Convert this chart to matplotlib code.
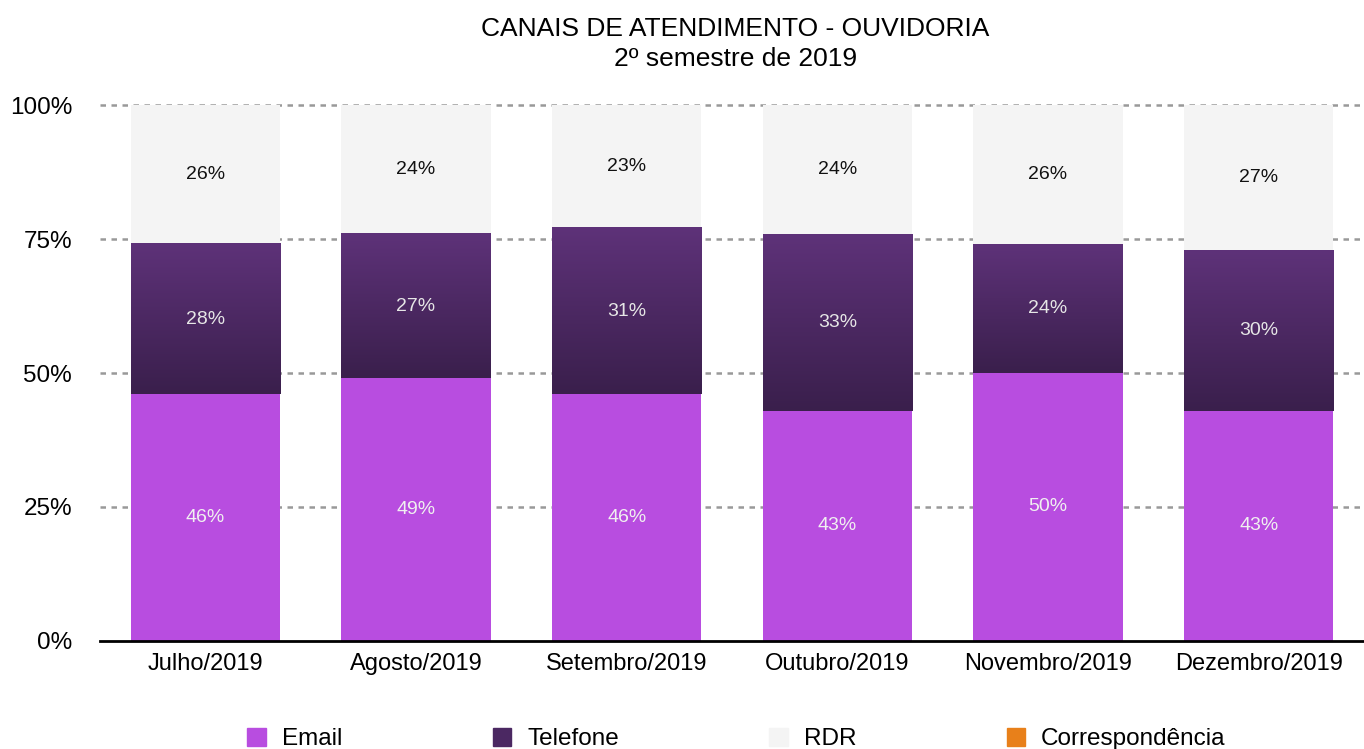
import matplotlib
matplotlib.use("Agg")
import matplotlib.pyplot as plt
import numpy as np
from matplotlib.patches import Patch

plt.rcParams['font.family'] = ['Liberation Sans', 'DejaVu Sans']

months = ['Julho/2019', 'Agosto/2019', 'Setembro/2019', 'Outubro/2019',
          'Novembro/2019', 'Dezembro/2019']
email = [46, 49, 46, 43, 50, 43]
telefone = [28, 27, 31, 33, 24, 30]
rdr = [26, 24, 23, 24, 26, 27]
correspondencia = [0, 0, 0, 0, 0, 0]
y_ticks = [0, 25, 50, 75, 100]
y_labels = ['0%', '25%', '50%', '75%', '100%']


def gradient_fill(ax, bars, top_color, bottom_color):
    grad = np.linspace(0, 1, 256).reshape(-1, 1)
    cmap = matplotlib.colors.LinearSegmentedColormap.from_list(
        'g', [bottom_color, top_color])
    for b in bars:
        x0, y0 = b.get_x(), b.get_y()
        w, h = b.get_width(), b.get_height()
        if h <= 0:
            continue
        ax.imshow(grad, extent=(x0, x0 + w, y0, y0 + h), origin='lower',
                  aspect='auto', cmap=cmap, zorder=3)
        b.set_alpha(0)


def main():
    fig = plt.figure(figsize=(13.64, 7.49), dpi=100)
    ax = fig.add_axes([0.0733, 0.1442, 0.9267, 0.7156])

    x = np.arange(len(months))
    w = 0.71
    bottom = np.zeros(len(months))

    b_email = ax.bar(x, email, w, bottom=bottom, color='#B84DE0', zorder=3)
    bottom += email
    b_tel = ax.bar(x, telefone, w, bottom=bottom, color='#4B2862', zorder=3)
    bottom += telefone
    b_rdr = ax.bar(x, rdr, w, bottom=bottom, color='#F4F4F4', zorder=3)
    bottom += rdr
    b_cor = ax.bar(x, correspondencia, w, bottom=bottom, color='#E8801A', zorder=3)

    gradient_fill(ax, b_tel, '#5E3279', '#3A1F4C')

    for bars, vals, col in [(b_email, email, '#F0F0F0'),
                            (b_tel, telefone, '#E6E6E6'),
                            (b_rdr, rdr, '#111111')]:
        for b, v in zip(bars, vals):
            ax.text(b.get_x() + b.get_width() / 2, b.get_y() + b.get_height() / 2,
                    f'{v}%', ha='center', va='center', fontsize=14,
                    color=col, zorder=5)

    ax.set_xlim(-0.5, len(months) - 0.5)
    ax.set_ylim(0, 100)
    ax.set_yticks(y_ticks)
    ax.set_yticklabels(y_labels, fontsize=17.5)
    ax.set_xticks(x)
    ax.set_xticklabels(months, fontsize=17)
    ax.tick_params(axis='y', length=0, pad=20)
    ax.tick_params(axis='x', length=0, pad=9)

    for t in y_ticks[1:]:
        ax.axhline(t, color='#999999', lw=1.8, ls=(0, (2.2, 2.2)), zorder=1,
                   clip_on=False)

    for s in ['top', 'right', 'left']:
        ax.spines[s].set_visible(False)
    ax.spines['bottom'].set_linewidth(2)
    ax.spines['bottom'].set_color('black')
    ax.spines['bottom'].set_zorder(4)

    fig.text(0.539, 0.941, 'CANAIS DE ATENDIMENTO - OUVIDORIA\n2º semestre de 2019',
             ha='center', va='center', fontsize=19, linespacing=1.3)

    handles = [Patch(color='#B84DE0', label='Email'),
               Patch(color='#4B2862', label='Telefone'),
               Patch(color='#F4F4F4', label='RDR'),
               Patch(color='#E8801A', label='Correspondência')]
    fig.legend(handles=handles, loc='center', bbox_to_anchor=(0.54, 0.013),
               ncol=4, frameon=False, fontsize=17.5, handlelength=0.75,
               handleheight=0.75, handletextpad=0.66, columnspacing=6.2)

    fig.savefig('out.png', dpi=100)


if __name__ == "__main__":
    main()
